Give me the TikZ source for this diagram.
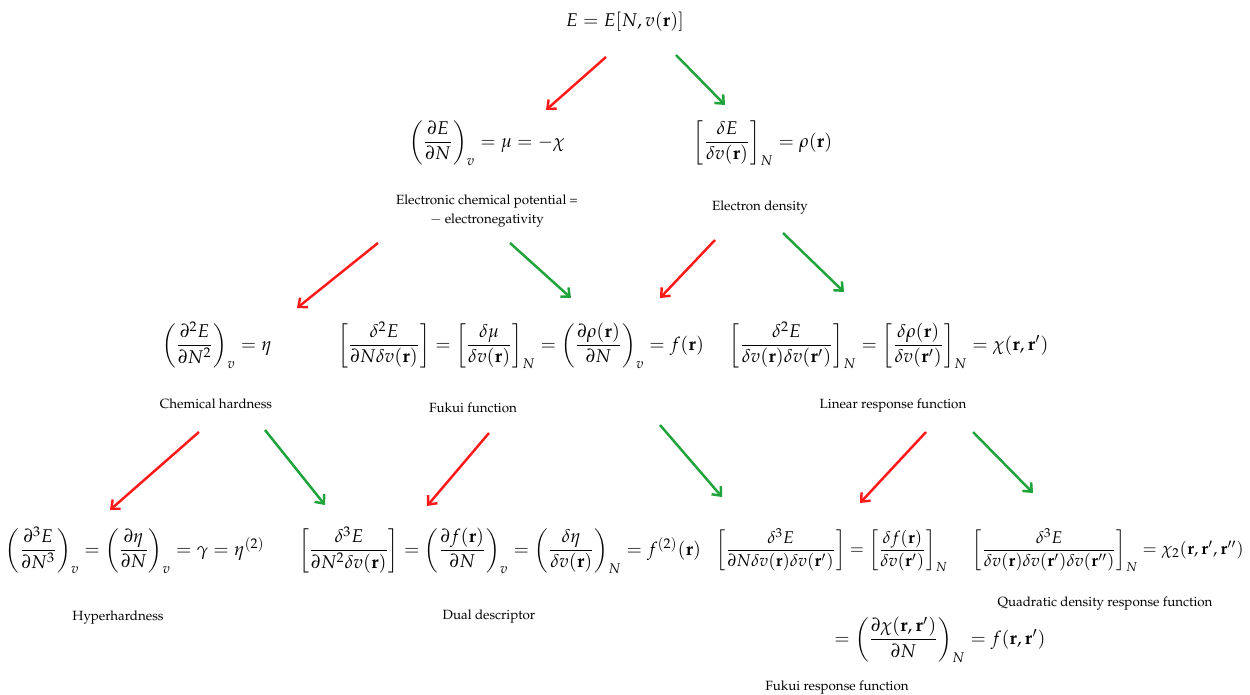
\documentclass[tikz,border=0pt]{standalone}
\usepackage[T1]{fontenc}
\usepackage{amsmath}
\usepackage{mathpazo}
\usetikzlibrary{arrows.meta}

\definecolor{arrred}{rgb}{1,0.1,0.1}
\definecolor{arrgreen}{rgb}{0.12,0.64,0.23}

\begin{document}
\begin{tikzpicture}[x=0.02cm, y=-0.02cm,
    eq/.style={inner sep=0pt, font=\fontsize{10.5}{12.5}\selectfont},
    eqsmall/.style={inner sep=0pt, font=\fontsize{9.7}{12}\selectfont},
    lbl/.style={inner sep=0pt, align=center, font=\fontsize{7.6}{11.3}\selectfont},
    redarr/.style={line width=1.4pt, color=arrred, -{Straight Barb[length=4pt, width=7pt]}},
    greenarr/.style={line width=1.4pt, color=arrgreen, -{Straight Barb[length=4pt, width=7pt]}}]
    \useasboundingbox (0,0) rectangle (1250,695);
    % energy
    \node[eq] (energy) at (625,22) {$E = E[N, v(\mathbf{r})]$};
    % first derivatives
    \node[eq] (mu) at (487,143) {$\left(\dfrac{\partial E}{\partial N}\right)_{v} = \mu = -\chi$};
    \node[lbl] (mulbl) at (487,211) {Electronic chemical potential =\\ $-$ electronegativity};
    \node[eq] (rho) at (763,143) {$\left[\dfrac{\delta E}{\delta v(\mathbf{r})}\right]_N = \rho(\mathbf{r})$};
    \node[lbl] (rholbl) at (760,208) {Electron density};
    % second derivatives
    \node[eq] (eta) at (217,345) {$\left(\dfrac{\partial^2 E}{\partial N^2}\right)_{v} = \eta$};
    \node[lbl] (etalbl) at (216,404) {Chemical hardness};
    \node[eq] (fukui) at (521,345) {$\left[\dfrac{\delta^2 E}{\partial N\delta v(\mathbf{r})}\right] = \left[\dfrac{\delta\mu}{\delta v(\mathbf{r})}\right]_N = \left(\dfrac{\partial\rho(\mathbf{r})}{\partial N}\right)_{v} = f(\mathbf{r})$};
    \node[lbl] (fukuilbl) at (473,408) {Fukui function};
    \node[eq] (chi) at (889,345) {$\left[\dfrac{\delta^2 E}{\delta v(\mathbf{r})\delta v(\mathbf{r}')}\right]_N = \left[\dfrac{\delta\rho(\mathbf{r})}{\delta v(\mathbf{r}')}\right]_N = \chi(\mathbf{r},\mathbf{r}')$};
    \node[lbl] (chilbl) at (893,406) {Linear response function};
    % third derivatives
    \node[eq] (hyper) at (135,550) {$\left(\dfrac{\partial^3 E}{\partial N^3}\right)_{v} = \left(\dfrac{\partial\eta}{\partial N}\right)_{v} = \gamma = \eta^{(2)}$};
    \node[lbl] (hyperlbl) at (118,618) {Hyperhardness};
    \node[eq] (dual) at (500,550) {$\left[\dfrac{\delta^3 E}{\partial N^2\delta v(\mathbf{r})}\right] = \left(\dfrac{\partial f(\mathbf{r})}{\partial N}\right)_{v} = \left(\dfrac{\delta\eta}{\delta v(\mathbf{r})}\right)_N = f^{(2)}(\mathbf{r})$};
    \node[lbl] (duallbl) at (489,617) {Dual descriptor};
    \node[eqsmall] (fresp) at (832,550) {$\left[\dfrac{\delta^3 E}{\partial N\delta v(\mathbf{r})\delta v(\mathbf{r}')}\right] = \left[\dfrac{\delta f(\mathbf{r})}{\delta v(\mathbf{r}')}\right]_N$};
    \node[eq] (fresptwo) at (940,640) {$= \left(\dfrac{\partial\chi(\mathbf{r},\mathbf{r}')}{\partial N}\right)_N = f(\mathbf{r},\mathbf{r}')$};
    \node[lbl] (fresplbl) at (837,688) {Fukui response function};
    \node[eqsmall] (quad) at (1108,550) {$\left[\dfrac{\delta^3 E}{\delta v(\mathbf{r})\delta v(\mathbf{r}')\delta v(\mathbf{r}'')}\right]_N = \chi_2(\mathbf{r},\mathbf{r}',\mathbf{r}'')$};
    \node[lbl] (quadlbl) at (1105,604) {Quadratic density response function};
    % arrow ends
    \coordinate (emu) at (606,57);   \coordinate (mutip) at (546,110);
    \coordinate (erho) at (676,55);  \coordinate (rhotip) at (725,105);
    \coordinate (mueta) at (378,243);  \coordinate (etatip) at (297,308);
    \coordinate (mufuk) at (510,243);  \coordinate (fuktipa) at (571,298);
    \coordinate (rhofuk) at (715,240); \coordinate (fuktipb) at (660,298);
    \coordinate (rhochi) at (783,233); \coordinate (chitip) at (844,292);
    \coordinate (etahyp) at (199,432); \coordinate (hyptip) at (110,510);
    \coordinate (etadual) at (265,430); \coordinate (dualtipa) at (325,505);
    \coordinate (fukdual) at (489,433); \coordinate (dualtipb) at (427,506);
    \coordinate (fukfr) at (660,425);  \coordinate (frtipa) at (722,497);
    \coordinate (chifr) at (926,432);  \coordinate (frtipb) at (860,503);
    \coordinate (chiquad) at (973,432); \coordinate (quadtip) at (1033,493);
    % arrows
    \draw[redarr] (emu) -- (mutip);
    \draw[greenarr] (erho) -- (rhotip);
    \draw[redarr] (mueta) -- (etatip);
    \draw[greenarr] (mufuk) -- (fuktipa);
    \draw[redarr] (rhofuk) -- (fuktipb);
    \draw[greenarr] (rhochi) -- (chitip);
    \draw[redarr] (etahyp) -- (hyptip);
    \draw[greenarr] (etadual) -- (dualtipa);
    \draw[redarr] (fukdual) -- (dualtipb);
    \draw[greenarr] (fukfr) -- (frtipa);
    \draw[redarr] (chifr) -- (frtipb);
    \draw[greenarr] (chiquad) -- (quadtip);
\end{tikzpicture}
\end{document}
